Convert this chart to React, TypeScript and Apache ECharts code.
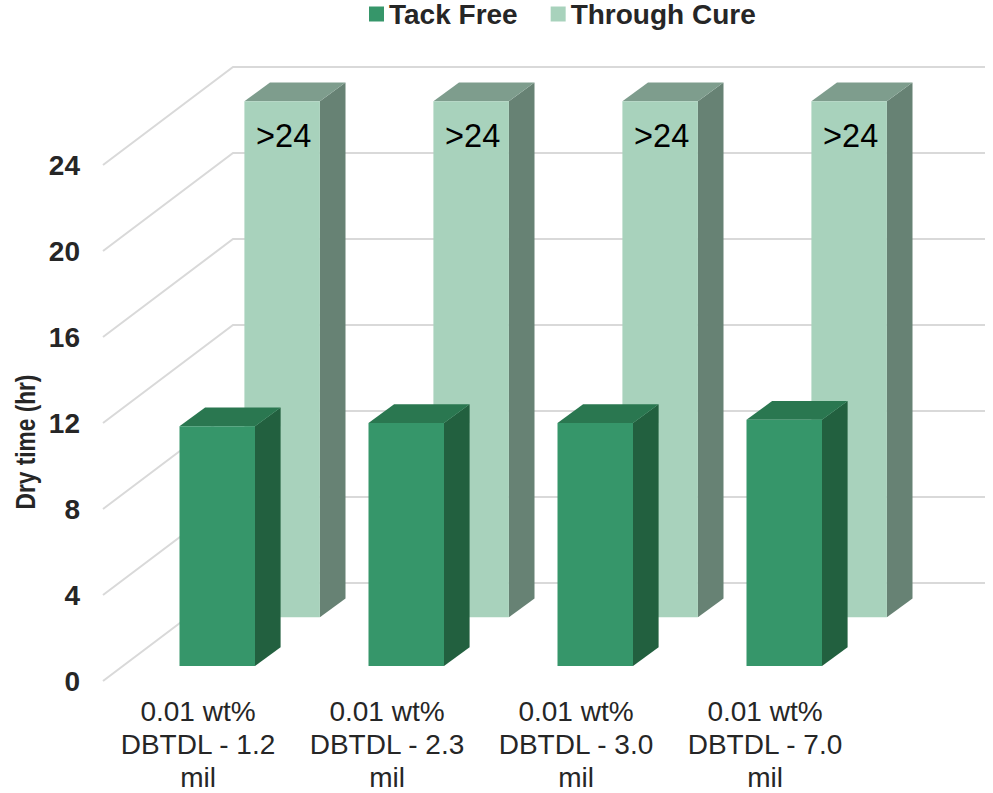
import React, { useEffect, useRef } from "react";
import * as echarts from "echarts";

const categories = [
  "0.01 wt%\nDBTDL - 1.2\nmil",
  "0.01 wt%\nDBTDL - 2.3\nmil",
  "0.01 wt%\nDBTDL - 3.0\nmil",
  "0.01 wt%\nDBTDL - 7.0\nmil",
];
const tackFree = [11.15, 11.3, 11.3, 11.45];
const throughCure = [24, 24, 24, 24];
const throughCureLabels = [">24", ">24", ">24", ">24"];
const gridTicks = [0, 4, 8, 12, 16, 20, 24];

const FONT = "'Liberation Sans', Arial, sans-serif";
const TEXT = "#262626";

// Oblique projection of the column depth and of the floor
const FLOOR_DX = 130;
const FLOOR_DY = -98;
const WALL_RIGHT = 985;
const BAR_DX = 25.6;
const BAR_DY = -18.8;

type Palette = { front: string; side: string; top: string };
const tackPalette: Palette = { front: "#36966a", side: "#22603f", top: "#2a7750" };
const curePalette: Palette = { front: "#a8d2bc", side: "#678274", top: "#7e9d8d" };

// One column as three faces; offsets place it on its row of the floor
function columnItem(
  api: any,
  palette: Palette,
  left: number,
  width: number,
  lift: number,
  label?: string,
) {
  const [cx, baseY] = api.coord([api.value(0), 0]);
  const [, topY] = api.coord([api.value(0), api.value(1)]);
  const x0 = cx + left;
  const x1 = x0 + width;
  const y0 = baseY - lift;
  const y1 = topY - lift;
  const children: any[] = [
    {
      type: "polygon",
      shape: { points: [[x1, y0], [x1 + BAR_DX, y0 + BAR_DY], [x1 + BAR_DX, y1 + BAR_DY], [x1, y1]] },
      style: { fill: palette.side },
    },
    {
      type: "polygon",
      shape: { points: [[x0, y1], [x1, y1], [x1 + BAR_DX, y1 + BAR_DY], [x0 + BAR_DX, y1 + BAR_DY]] },
      style: { fill: palette.top },
    },
    {
      type: "rect",
      shape: { x: x0, y: y1, width, height: y0 - y1 },
      style: { fill: palette.front },
    },
  ];
  if (label) {
    children.push({
      type: "text",
      x: x0 + width / 2 + 1.5,
      y: y1 + 35,
      style: {
        text: label,
        fill: "#000000",
        font: `32.5px ${FONT}`,
        align: "center",
        verticalAlign: "middle",
      },
    });
  }
  return { type: "group", children };
}

export default function App() {
  const ref = useRef<HTMLDivElement>(null);

  useEffect(() => {
    if (!ref.current) return;
    const chart = echarts.init(ref.current, undefined, { renderer: "svg" });
    chart.setOption({
      animation: false,
      backgroundColor: "#ffffff",
      grid: {
        left: 103.5,
        top: 165,
        width: 756,
        height: 516,
        containLabel: false,
        outerBoundsMode: "none",
      },
      legend: {
        data: ["Tack Free", "Through Cure"],
        left: 369,
        top: 0,
        itemWidth: 15,
        itemHeight: 15,
        itemGap: 33,
        padding: [0, 0, 0, 0],
        selectedMode: false,
        icon: "rect",
        textStyle: { fontFamily: FONT, fontWeight: "bold", fontSize: 28, color: TEXT },
      },
      xAxis: {
        type: "category",
        data: categories,
        axisLine: { show: false },
        axisTick: { show: false },
        splitLine: { show: false },
        axisLabel: {
          interval: 0,
          margin: 14,
          fontFamily: FONT,
          fontSize: 28,
          lineHeight: 33,
          color: TEXT,
        },
      },
      yAxis: {
        type: "value",
        min: 0,
        max: 24,
        interval: 4,
        axisLine: { show: false },
        axisTick: { show: false },
        splitLine: { show: false },
        axisLabel: {
          margin: 23.5,
          padding: [0, 0, 4, 0],
          fontFamily: FONT,
          fontWeight: "bold",
          fontSize: 28,
          color: TEXT,
        },
      },
      graphic: [
        {
          type: "text",
          x: 25,
          y: 442,
          rotation: Math.PI / 2,
          scaleX: 0.84,
          style: {
            text: "Dry time (hr)",
            font: `bold 27px ${FONT}`,
            fill: TEXT,
            align: "center",
            verticalAlign: "middle",
          },
        },
      ],
      series: [
        {
          type: "custom",
          name: "Gridlines",
          silent: true,
          z: 1,
          data: gridTicks.map((v) => [0, v]),
          renderItem: (params: any, api: any) => {
            const y = api.coord([0, api.value(1)])[1];
            const x = params.coordSys.x - 0.5;
            return {
              type: "polyline",
              shape: {
                points: [
                  [x, y],
                  [x + FLOOR_DX, y + FLOOR_DY],
                  [WALL_RIGHT, y + FLOOR_DY],
                ],
              },
              style: { stroke: "#d9d9d9", lineWidth: 2, fill: "none" },
            };
          },
        },
        {
          type: "custom",
          name: "Through Cure",
          silent: true,
          z: 2,
          itemStyle: { color: curePalette.front },
          data: throughCure.map((v, i) => [i, v]),
          renderItem: (params: any, api: any) =>
            columnItem(api, curePalette, 46.4, 75.5, 63.7, throughCureLabels[params.dataIndex]),
        },
        {
          type: "custom",
          name: "Tack Free",
          silent: true,
          z: 3,
          itemStyle: { color: tackPalette.front },
          data: tackFree.map((v, i) => [i, v]),
          renderItem: (_params: any, api: any) =>
            columnItem(api, tackPalette, -18.5, 75.5, 15),
        },
      ],
    });
    return () => chart.dispose();
  }, []);

  return (
    <div
      ref={ref}
      style={{ position: "fixed", left: 0, top: 0, width: 993, height: 793 }}
    />
  );
}
